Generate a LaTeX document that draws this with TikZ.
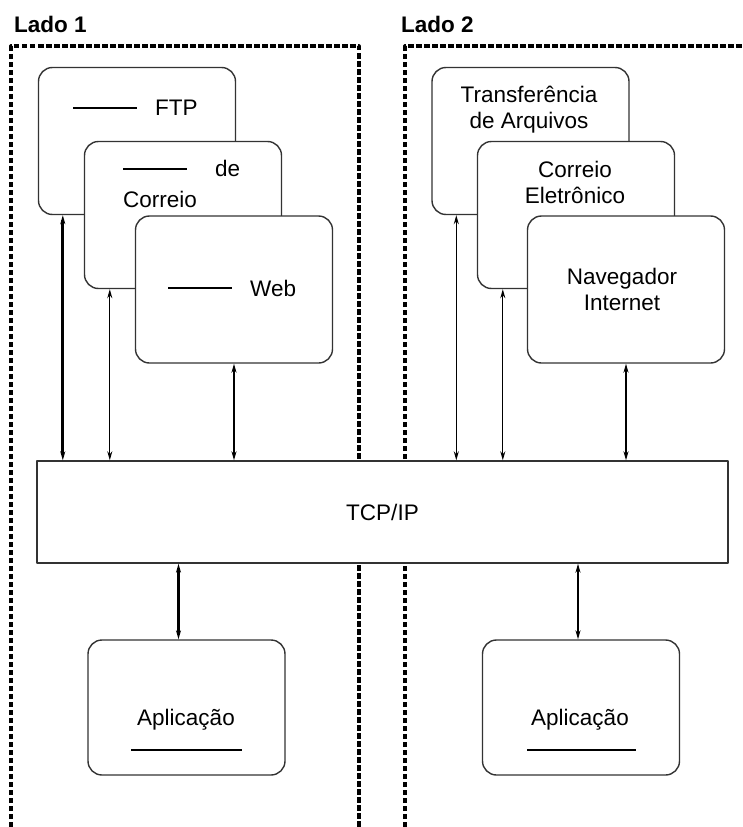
\documentclass[tikz,border=0pt]{standalone}
\usepackage{fontspec}
\setmainfont{Liberation Sans}
\usetikzlibrary{arrows.meta}

\begin{document}
\begin{tikzpicture}[x=1pt, y=-1pt, line join=round,
  app box/.style={draw=black!80, line width=1.4pt, fill=white, rounded corners=14pt, inner sep=0pt, minimum width=197pt, minimum height=147pt},
  frame/.style={line width=3.2pt, dash pattern=on 5.5pt off 2.5pt},
  txt/.style={font=\fontsize{22.5}{26}\selectfont, inner sep=0pt, align=center},
  blank/.style={line width=1.4pt},
  dbl/.style={{Stealth[length=9pt,width=5pt]}-{Stealth[length=9pt,width=5pt]}, line width=1.3pt},
  dbl thick/.style={dbl, line width=2.8pt}]
\useasboundingbox (0,0) rectangle (743,827);

\node [txt, font=\fontsize{22.5}{26}\selectfont\bfseries, anchor=west](lado1) at (14,24) {Lado 1};
\node [txt, font=\fontsize{22.5}{26}\selectfont\bfseries, anchor=west](lado2) at (401,24) {Lado 2};
\draw [frame] (11,827) -- (11,46) -- (359,46) -- (359,827);
\draw [frame] (405,827) -- (405,46) -- (743,46);

\node [app box](ftp) at (137,141) {};
\node [app box](mail) at (183,215) {};
\node [app box](web) at (234,289.5) {};
\node [app box](transf) at (530.5,141) {};
\node [app box](correio) at (576,215) {};
\node [app box](nav) at (626,289.5) {};
\node [app box, rounded corners=0pt, minimum width=691pt, minimum height=102pt](tcp) at (382.5,512) {};
\node [app box, minimum height=135pt](apl1) at (186.5,707.5) {};
\node [app box, minimum height=135pt](apl2) at (581,707.5) {};

\draw [blank] (73,108) -- (137,108);
\node [txt, anchor=west](ftpt) at (155,108) {FTP};
\draw [blank] (123,169) -- (187,169);
\node [txt, anchor=west](de) at (215,168) {de};
\node [txt, anchor=west](corr) at (123,199) {Correio};
\draw [blank] (168,288) -- (232,288);
\node [txt, anchor=west](webt) at (250,288) {Web};
\node [txt](transft) at (529,110) {Transferência\\de Arquivos};
\node [txt](corrt) at (575,182) {Correio\\Eletrônico};
\node [txt](navt) at (622,289) {Navegador\\Internet};
\node [txt](tcpt) at (tcp) {TCP/IP};
\node [txt](apl1t) at (186,720) {Aplicação};
\draw [blank] (131,750) -- (242,750);
\node [txt](apl2t) at (580,720) {Aplicação};
\draw [blank] (527,750) -- (636,750);

\coordinate (a1) at ([xshift=25pt]ftp.south west);
\coordinate (a2) at ([xshift=26pt]mail.south west);
\coordinate (a3) at (web.south);
\coordinate (b1) at ([xshift=25pt]transf.south west);
\coordinate (b2) at ([xshift=26pt]correio.south west);
\coordinate (b3) at (nav.south);
\coordinate (c1) at ([xshift=-8pt]apl1.north);
\coordinate (c2) at ([xshift=-3pt]apl2.north);
\draw [dbl thick] (a1) -- (a1 |- tcp.north);
\draw [dbl] (a2) -- (a2 |- tcp.north);
\draw [dbl thick] (a3) -- (a3 |- tcp.north);
\draw [dbl] (b1) -- (b1 |- tcp.north);
\draw [dbl] (b2) -- (b2 |- tcp.north);
\draw [dbl thick] (b3) -- (b3 |- tcp.north);
\draw [dbl thick] (c1 |- tcp.south) -- (c1);
\draw [dbl thick] (c2 |- tcp.south) -- (c2);
\end{tikzpicture}
\end{document}
